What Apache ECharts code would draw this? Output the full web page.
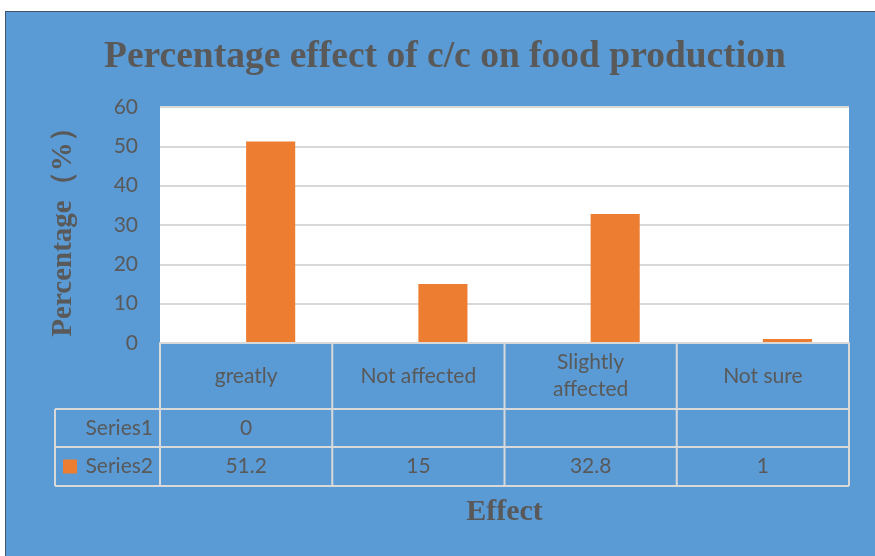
<!DOCTYPE html>
<html>
<head>
<meta charset="utf-8">
<script src="https://cdn.jsdelivr.net/npm/echarts@6/dist/echarts.min.js"></script>
<style>
html,body{margin:0;padding:0;background:#fff;}
#wrap{position:relative;width:875px;height:556px;overflow:hidden;background:#fff;}
#bg{position:absolute;left:5px;top:11px;width:875px;height:550px;background:#5B9BD5;border-left:1.5px solid #41546E;border-top:1.5px solid #41546E;}
#chart{position:absolute;left:0;top:0;width:875px;height:556px;}
</style>
</head>
<body>
<div id="wrap"><div id="bg"></div><div id="chart"></div></div>
<script>
const categories = ['greatly', 'Not affected', 'Slightly affected', 'Not sure'];
const series1 = [0, null, null, null];
const series2 = [51.2, 15, 32.8, 1];
const seriesNames = ['Series1', 'Series2'];
const yMin = 0, yMax = 60, yStep = 10;

const TXT = '#595959';
const LINE = '#D9D9D9';
const ORANGE = '#ED7D31';
const SANS = 'Lato, "Open Sans", sans-serif';
const SERIF = '"Liberation Serif", "DejaVu Serif", serif';
const FS = 21;

const G = { left: 160, right: 26, top: 107, bottom: 213 };
const W = 875, H = 556;

const chart = echarts.init(document.getElementById('chart'), null, { renderer: 'canvas' });

chart.setOption({
  backgroundColor: 'transparent',
  animation: false,
  title: {
    text: 'Percentage effect of c/c on food production',
    left: 99, top: 33,
    textStyle: { fontFamily: SERIF, fontWeight: 'bold', fontSize: 37.5, color: TXT }
  },
  grid: { left: G.left, right: G.right, top: G.top, bottom: G.bottom, show: true, backgroundColor: '#FFFFFF', borderWidth: 0 },
  xAxis: {
    type: 'category',
    data: categories,
    name: 'Effect',
    nameLocation: 'middle',
    nameGap: 169,
    nameTextStyle: { fontFamily: SERIF, fontWeight: 'bold', fontSize: 30, color: TXT, verticalAlign: 'middle' },
    axisLine: { show: true, lineStyle: { color: LINE, width: 2 } },
    axisTick: { show: false },
    axisLabel: {
      margin: 33, verticalAlign: 'middle', lineHeight: 27,
      fontFamily: SANS, fontSize: FS, color: TXT,
      formatter: v => v.length > 14 ? v.replace(' ', '\n') : v
    }
  },
  yAxis: {
    type: 'value', min: yMin, max: yMax, interval: yStep,
    name: 'Percentage（%）',
    nameLocation: 'middle',
    nameGap: 82,
    nameTextStyle: { fontFamily: SERIF, fontWeight: 'bold', fontSize: 29, color: TXT },
    axisLine: { show: false },
    axisTick: { show: false },
    splitLine: { lineStyle: { color: LINE, width: 2 } },
    axisLabel: { margin: 22, fontFamily: SANS, fontSize: FS, color: TXT }
  },
  series: [
    { name: seriesNames[0], type: 'bar', data: series1.map(v => v === null ? '-' : v), itemStyle: { color: '#5B9BD5' }, barGap: '0%', barCategoryGap: '43%' },
    { name: seriesNames[1], type: 'bar', data: series2, itemStyle: { color: ORANGE }, barGap: '0%', barCategoryGap: '43%' }
  ]
});

// Data table drawn below the plot, aligned through the category axis
const xL = G.left, xR = W - G.right, y0 = H - G.bottom;
const yHead = 409, yRow1 = 447, yRow2 = 486, xLab = 55;
const n = categories.length;
const step = (xR - xL) / n;
const centers = categories.map(c => chart.convertToPixel({ xAxisIndex: 0 }, c));
const els = [];
const ln = (x1, y1, x2, y2) => els.push({ type: 'line', shape: { x1, y1, x2, y2 }, style: { stroke: LINE, lineWidth: 2 }, z: 10 });
ln(xL, y0, xR, y0);
ln(xLab, yHead, xR, yHead);
ln(xLab, yRow1, xR, yRow1);
ln(xLab, yRow2, xR, yRow2);
ln(xLab, yHead, xLab, yRow2);
for (let i = 0; i <= n; i++) { const x = xL + i * step; ln(x, y0, x, yRow2); }
const txt = (s, x, y, align) => els.push({ type: 'text', x, y, style: { text: s, fill: TXT, font: FS + 'px ' + SANS, textAlign: align || 'center', textVerticalAlign: 'middle' }, z: 11 });
const rows = [[series1, (yHead + yRow1) / 2], [series2, (yRow1 + yRow2) / 2]];
rows.forEach(([vals, y], r) => {
  txt(seriesNames[r], xL - 7, y, 'right');
  vals.forEach((v, i) => { if (v !== null) txt(String(v), centers[i], y); });
});
els.push({ type: 'rect', shape: { x: 63, y: (yRow1 + yRow2) / 2 - 7, width: 14, height: 14 }, style: { fill: ORANGE }, z: 11 });
chart.setOption({ graphic: els });
</script>
</body>
</html>
